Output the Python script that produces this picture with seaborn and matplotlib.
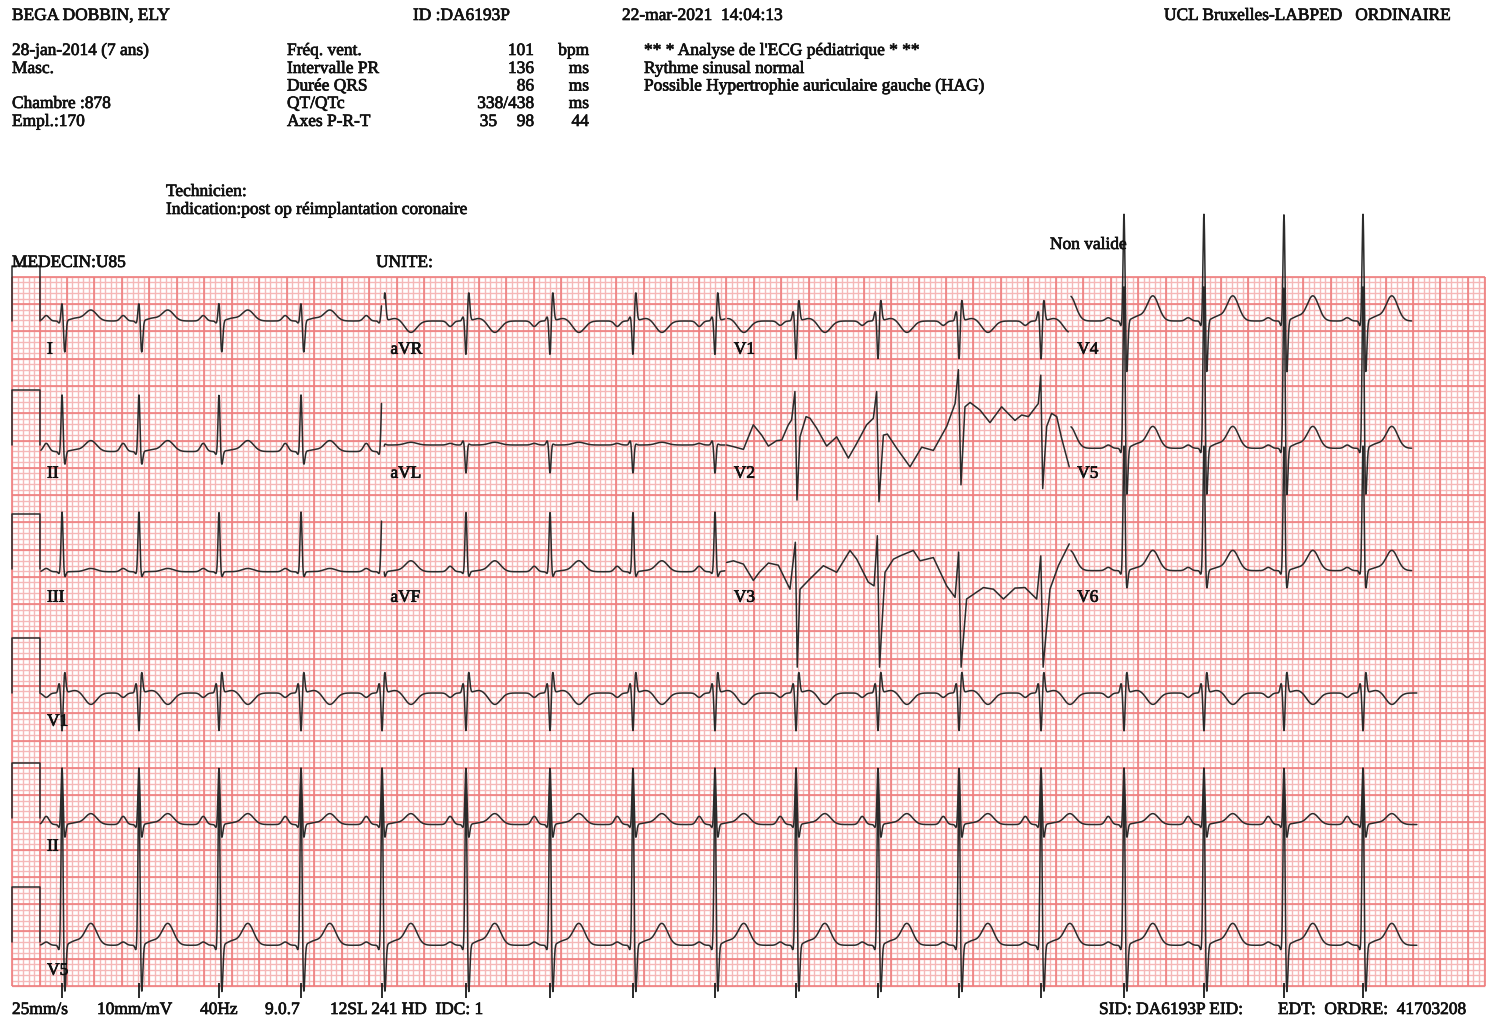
import numpy as np
import pandas as pd
import matplotlib
matplotlib.use("Agg")
import matplotlib.pyplot as plt
import matplotlib.patheffects as pe
import seaborn as sns

sns.set_style("white")
plt.rcParams['font.family'] = ['Liberation Serif', 'DejaVu Serif']

# ---------------- data (seconds / millivolts) ----------------
beat_times = [0.164, 0.724, 1.307, 1.904, 2.494, 3.105, 3.717, 4.321, 4.918,
              5.508, 6.105, 6.695, 7.292, 7.896, 8.478, 9.061, 9.636]

template_leads = ['I', 'II', 'III', 'aVR', 'aVL', 'aVF', 'V1', 'V4', 'V5', 'V6']
base_mv = [0.00, -0.12, -0.05, 0.00, 0.00, -0.05, 0.00, 0.00, -0.06, -0.03]
p_amp  = [0.10, 0.15, 0.06, -0.10, 0.03, 0.10, -0.08, 0.06, 0.06, 0.06]
q_amp  = [-0.04, -0.06, -0.04, 0.08, 0.08, -0.04, 0.18, -0.10, -0.10, -0.08]
r_amp  = [0.34, 1.05, 1.10, -0.64, -0.52, 1.10, -0.72, 2.00, 3.00, 2.30]
s_amp  = [-0.58, -0.25, -0.10, 0.52, 0.02, -0.10, 0.38, -0.97, -0.90, -0.35]
st_amp = [0.05, 0.03, 0.00, 0.05, 0.00, 0.02, 0.05, 0.08, 0.08, 0.05]
t_amp  = [0.20, 0.20, 0.06, -0.21, 0.05, 0.20, -0.21, 0.46, 0.40, 0.37]

wave_offset = [-0.115, -0.02, 0.0, 0.02, 0.10, 0.21]   # P, Q, R, S, ST, T
wave_width  = [0.020, 0.008, 0.007, 0.008, 0.040, 0.042]

v2_t  = [5.003, 5.052, 5.125, 5.197, 5.258, 5.307, 5.367, 5.404, 5.452, 5.476,
         5.500, 5.515, 5.537, 5.581, 5.610, 5.658, 5.731, 5.804, 5.889, 5.950,
         6.022, 6.071, 6.095, 6.112, 6.144, 6.173, 6.241, 6.338, 6.423, 6.508,
         6.605, 6.666, 6.690, 6.709, 6.738, 6.775, 6.848, 6.920, 7.005, 7.102,
         7.151, 7.200, 7.272, 7.290, 7.304, 7.333, 7.369, 7.406, 7.442, 7.497]
v2_mv = [0.00, -0.03, -0.08, 0.37, 0.18, -0.02, 0.08, 0.09, 0.37, 0.46,
         0.98, -1.01, 0.15, 0.52, 0.49, 0.31, -0.02, 0.15, -0.24, 0.03,
         0.37, 0.49, 0.98, -1.04, 0.18, 0.20, -0.06, -0.40, -0.04, -0.10,
         0.34, 0.76, 1.38, -0.73, 0.70, 0.78, 0.64, 0.41, 0.70, 0.45,
         0.55, 0.52, 0.76, 1.28, -0.80, 0.34, 0.58, 0.52, 0.12, -0.40]

v3_t  = [5.003, 5.052, 5.125, 5.197, 5.241, 5.307, 5.379, 5.464, 5.503, 5.517,
         5.537, 5.598, 5.707, 5.804, 5.901, 5.950, 6.034, 6.076, 6.100, 6.116,
         6.156, 6.217, 6.265, 6.362, 6.411, 6.508, 6.605, 6.666, 6.692, 6.710,
         6.750, 6.872, 6.945, 7.018, 7.102, 7.175, 7.260, 7.290, 7.307, 7.357,
         7.418, 7.497]
v3_mv = [0.12, 0.15, 0.09, -0.21, -0.06, 0.11, 0.07, -0.37, 0.49, -1.80,
         -0.37, -0.21, 0.06, -0.06, 0.34, 0.18, -0.24, -0.31, 0.61, -1.80,
         -0.06, 0.18, 0.24, 0.34, 0.15, 0.21, -0.31, -0.52, 0.31, -1.80,
         -0.55, -0.34, -0.37, -0.55, -0.35, -0.34, -0.55, 0.24, -1.80, -0.37,
         0.06, 0.46]

grid_rows = [['I', 'aVR', 'V1', 'V4'],
             ['II', 'aVL', 'V2', 'V5'],
             ['III', 'aVF', 'V3', 'V6']]
rhythm_leads = ['V1', 'II', 'V5']

header_left = ['BEGA DOBBIN, ELY', '28-jan-2014 (7 ans)', 'Masc.', 'Chambre :878', 'Empl.:170']
measure_names = ['Fréq. vent.', 'Intervalle PR', 'Durée QRS', 'QT/QTc', 'Axes P-R-T']
measure_vals = ['101', '136', '86', '338/438', '98']
measure_units = ['bpm', 'ms', 'ms', 'ms', '44']
statements = ["** * Analyse de l'ECG pédiatrique * **", 'Rythme sinusal normal',
              'Possible Hypertrophie auriculaire gauche (HAG)']
footer_left = ['25mm/s', '10mm/mV', '40Hz', '9.0.7', '12SL 241 HD  IDC: 1']
footer_right = ['SID: DA6193P EID:', 'EDT:  ORDRE:  41703208']

# ---------------- layout ----------------
W, H = 1494, 1024
PX_PER_S = 137.35
PX_PER_MV = 54.55
T0_PX = 39.5
GRID_BOTTOM_PX = 986
row_base_px = [321, 445, 569, 693, 818, 942]
row_base = [(GRID_BOTTOM_PX - p) / PX_PER_MV for p in row_base_px]

fig = plt.figure(figsize=(W / 100, H / 100), dpi=100)
ax = fig.add_axes([0, 0, 1, 1])
ax.set_xlim(-T0_PX / PX_PER_S, (W - T0_PX) / PX_PER_S)
ax.set_ylim(-(H - GRID_BOTTOM_PX) / PX_PER_MV, GRID_BOTTOM_PX / PX_PER_MV)
ax.axis('off')

# grid
gx0, gx1 = -0.2, (1485 - T0_PX) / PX_PER_S
gy0, gy1 = 0.0, 13.0
minor_x = np.arange(gx0, gx1 + 1e-6, 0.04)
minor_y = np.arange(gy0, gy1 + 1e-6, 0.1)
ax.vlines(minor_x, gy0, gy1, colors='#f5b8b8', lw=1.0, zorder=1)
ax.hlines(minor_y, gx0, gx1, colors='#f5b8b8', lw=1.0, zorder=1)
major_x = np.arange(gx0, gx1 + 1e-6, 0.2)
major_y = np.arange(gy0, gy1 + 1e-6, 0.5)
ax.vlines(major_x, gy0, gy1, colors='#ee7f7f', lw=1.2, zorder=2)
ax.hlines(major_y, gx0, gx1, colors='#ee7f7f', lw=1.2, zorder=2)
ax.vlines([gx1], gy0, gy1, colors='#ee7f7f', lw=1.2, zorder=2)

# waveform synthesis
tt = np.arange(0.0, 10.03, 0.002)
amps = np.array([p_amp, q_amp, r_amp, s_amp, st_amp, t_amp]).T


def lead_signal(name, t):
    if name == 'V2':
        return np.interp(t, v2_t, v2_mv)
    if name == 'V3':
        return np.interp(t, v3_t, v3_mv)
    i = template_leads.index(name)
    a = amps[i]
    y = np.full_like(t, base_mv[i])
    for bt in beat_times:
        for k in range(6):
            y += a[k] * np.exp(-0.5 * ((t - bt - wave_offset[k]) / wave_width[k]) ** 2)
    return y


frames = []
seg = 0
for r, leads in enumerate(grid_rows):
    for c, name in enumerate(leads):
        t0, t1 = 2.5 * c, 2.5 * (c + 1)
        if name in ('V2', 'V3'):
            ts = np.array(v2_t if name == 'V2' else v3_t)
            ys = np.array(v2_mv if name == 'V2' else v3_mv)
        else:
            ts = tt[(tt >= t0 + 0.01) & (tt <= t1 - 0.01)]
            ys = lead_signal(name, ts)
        frames.append(pd.DataFrame({'t': ts, 'v': ys + row_base[r], 'seg': seg}))
        seg += 1
for i, name in enumerate(rhythm_leads):
    r = 3 + i
    ts = tt[(tt >= 0.005) & (tt <= 10.03)]
    frames.append(pd.DataFrame({'t': ts, 'v': lead_signal(name, ts) + row_base[r], 'seg': seg}))
    seg += 1

# calibration pulses
for r in range(6):
    b = row_base[r]
    frames.append(pd.DataFrame({'t': [-0.2, -0.2, 0.005, 0.005], 'v': [b, b + 1.0, b + 1.0, b], 'seg': seg}))
    seg += 1

df = pd.concat(frames, ignore_index=True)
sns.lineplot(data=df, x='t', y='v', units='seg', estimator=None, sort=False,
             color='#2b2b2b', lw=1.1, ax=ax, zorder=5, legend=False)

# beat tick marks below grid
ax.vlines(beat_times, -0.22, 0.05, colors='#1a1a1a', lw=1.3, zorder=5)

FS = 12.5
thick = [pe.withStroke(linewidth=0.5, foreground='#111111')]
# lead labels
for r, leads in enumerate(grid_rows):
    for c, name in enumerate(leads):
        ax.text(2.5 * c + 0.055, row_base[r] - 0.6, name, fontsize=FS, va='baseline',
                zorder=6, color='#111111', path_effects=thick)
for i, name in enumerate(rhythm_leads):
    ax.text(0.055, row_base[3 + i] - 0.6, name, fontsize=FS, va='baseline',
            zorder=6, color='#111111', path_effects=thick)


def ftext(x, y, s, ha='left'):
    fig.text(x / W, 1 - (y + 1) / H, s, fontsize=FS, ha=ha, va='baseline',
             color='#111111', path_effects=thick)


ftext(12, 19, header_left[0])
ftext(413, 19, 'ID :DA6193P')
ftext(622, 19, '22-mar-2021  14:04:13')
ftext(1452, 19, 'UCL Bruxelles-LABPED   ORDINAIRE', ha='right')
for i, s in enumerate(header_left[1:]):
    ftext(12, [54, 72, 107, 125][i], s)
lines_y = [54, 72, 89.5, 107, 125]
for i in range(5):
    ftext(287, lines_y[i], measure_names[i])
    ftext(534, lines_y[i], measure_vals[i], ha='right')
    ftext(589, lines_y[i], measure_units[i], ha='right')
ftext(497, lines_y[4], '35', ha='right')
for i, s in enumerate(statements):
    ftext(644, lines_y[i], s)
ftext(166, 195, 'Technicien:')
ftext(166, 213, 'Indication:post op réimplantation coronaire')
ftext(12, 266, 'MEDECIN:U85')
ftext(376, 266, 'UNITE:')
ftext(1050, 248, 'Non valide')
for x, s in zip([12, 97, 200, 265, 330], footer_left):
    ftext(x, 1013, s)
ftext(1099, 1013, footer_right[0])
ftext(1278, 1013, footer_right[1])

fig.savefig('out.png', dpi=100, facecolor='white')
